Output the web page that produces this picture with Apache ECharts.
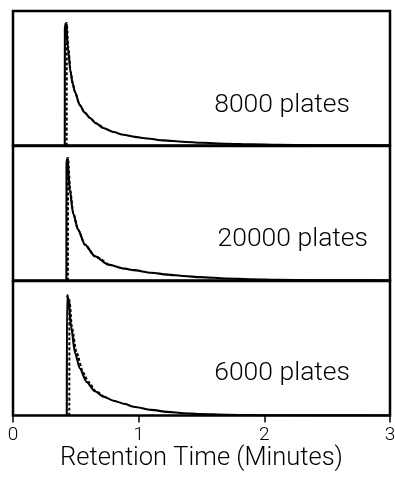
<!DOCTYPE html>
<html>
<head>
<meta charset="utf-8">
<script src="https://cdn.jsdelivr.net/npm/echarts@6/dist/echarts.min.js"></script>
<style>
  html, body { margin: 0; padding: 0; background: #fff; }
  #chart { width: 395px; height: 481px; }
</style>
</head>
<body>
<div id="chart"></div>
<script>
// Axis ticks (minutes)
const timeTicks = [0, 1, 2, 3];
const axisTitle = 'Retention Time (Minutes)';
const panelLabels = ['8000 plates', '20000 plates', '6000 plates'];

// Peak profiles: [time (min), relative height]
const solid8000 = [[0.412,0],[0.413,0.88],[0.42,0.91],[0.438,0.72],[0.457,0.55],[0.475,0.46],[0.492,0.40],[0.532,0.30],[0.57,0.245],[0.612,0.205],[0.66,0.165],[0.718,0.13],[0.80,0.10],[0.878,0.08],[0.97,0.064],[1.066,0.052],[1.2,0.038],[1.35,0.028],[1.5,0.02],[1.7,0.013],[1.9,0.008],[2.1,0.005],[2.4,0.002],[2.7,0.001],[3.0,0]];
const dashed8000 = [[0.427,0],[0.428,0.91],[0.441,0.72],[0.459,0.55],[0.476,0.46],[0.492,0.40],[0.532,0.30],[0.57,0.245],[0.612,0.205],[0.66,0.165],[0.718,0.13]];

const solid20000 = [[0.425,0],[0.426,0.88],[0.432,0.91],[0.452,0.674],[0.478,0.50],[0.518,0.378],[0.572,0.267],[0.652,0.18],[0.758,0.118],[0.892,0.088],[0.96,0.077],[1.1,0.058],[1.23,0.044],[1.36,0.033],[1.49,0.025],[1.7,0.015],[1.9,0.009],[2.1,0.005],[2.4,0.002],[2.7,0.001],[3.0,0]];
const dashed20000 = [[0.437,0],[0.438,0.91],[0.455,0.674],[0.48,0.50],[0.518,0.378],[0.572,0.267],[0.652,0.18],[0.758,0.118]];

const solid6000 = [[0.428,0],[0.429,0.87],[0.435,0.895],[0.465,0.647],[0.492,0.47],[0.532,0.35],[0.585,0.25],[0.652,0.18],[0.72,0.14],[0.80,0.11],[0.892,0.085],[0.96,0.065],[1.1,0.042],[1.23,0.027],[1.36,0.017],[1.49,0.011],[1.7,0.006],[2.0,0.002],[2.4,0.001],[3.0,0]];
const dashed6000 = [[0.448,0],[0.449,0.86],[0.47,0.647],[0.505,0.47],[0.558,0.32],[0.60,0.25],[0.66,0.18],[0.72,0.14]];

const panels = [
  { solid: solid8000, dashed: dashed8000 },
  { solid: solid20000, dashed: dashed20000 },
  { solid: solid6000, dashed: dashed6000 }
];

const FONT = 'Roboto';
const gridTops = [11, 146, 281];
const gridHeight = 134.5;

const grids = gridTops.map(top => ({
  left: 13, right: 5, top: top, height: gridHeight,
  outerBoundsMode: 'none', containLabel: false,
  show: true, borderColor: '#000', borderWidth: 2.5, backgroundColor: 'transparent'
}));

const xAxes = panels.map((p, i) => {
  const last = i === panels.length - 1;
  return {
    type: 'value', gridIndex: i, min: 0, max: 3, interval: 1,
    axisLine: { show: false },
    splitLine: { show: false },
    axisTick: { show: last, inside: false, length: 7, lineStyle: { color: '#000', width: 1.5 } },
    axisLabel: {
      show: last, color: '#000', fontFamily: FONT, fontWeight: 300, fontSize: 19, margin: 10,
      formatter: v => timeTicks.includes(v) ? String(v) : ''
    },
    name: last ? axisTitle : '',
    nameLocation: 'middle', nameGap: 29,
    nameTextStyle: { color: '#000', fontFamily: FONT, fontWeight: 300, fontSize: 25.5 }
  };
});

const yAxes = panels.map((p, i) => ({
  type: 'value', gridIndex: i, min: 0, max: 1, show: false
}));

const series = [];
panels.forEach((p, i) => {
  series.push({
    type: 'line', xAxisIndex: i, yAxisIndex: i, data: p.solid,
    showSymbol: false, symbol: 'none', smooth: 0.25, smoothMonotone: 'x', silent: true,
    lineStyle: { color: '#000', width: 2.1 }, z: 3
  });
  series.push({
    type: 'line', xAxisIndex: i, yAxisIndex: i, data: p.dashed,
    showSymbol: false, symbol: 'none', smooth: 0.25, smoothMonotone: 'x', silent: true,
    lineStyle: { color: '#000', width: 2, type: [3, 2] }, z: 4
  });
});

const labelPos = [[350, 106], [368, 240], [350, 374]];
const graphics = panelLabels.map((txt, i) => ({
  type: 'text', right: 395 - labelPos[i][0], top: labelPos[i][1] - 14,
  style: { text: txt, fill: '#000', font: '300 26.5px "' + FONT + '"' }
}));

const chart = echarts.init(document.getElementById('chart'), null, { renderer: 'canvas' });
chart.setOption({
  animation: false,
  backgroundColor: '#fff',
  grid: grids,
  xAxis: xAxes,
  yAxis: yAxes,
  series: series,
  graphic: graphics
});
</script>
</body>
</html>
